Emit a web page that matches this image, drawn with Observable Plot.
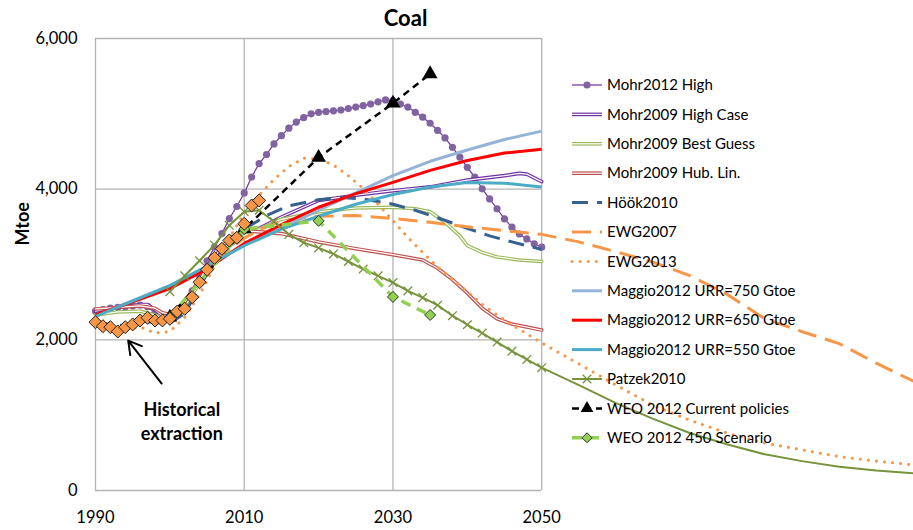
<!DOCTYPE html>
<html><head><meta charset="utf-8">
<script src="https://cdn.jsdelivr.net/npm/d3@7"></script>
<script src="https://cdn.jsdelivr.net/npm/@observablehq/plot@0.6"></script>
<style>
body{margin:0;background:#fff;font-family:Lato,"Open Sans",sans-serif}
#wrap{position:relative;width:913px;height:530px}
#wrap svg{position:absolute;left:0;top:0}
</style></head><body><div id="wrap"></div>
<script>
// ---------- data ----------
const title = "Coal";
const yLabel = "Mtoe";
const xTicks = [1990, 2010, 2030, 2050];
const yTicks = [0, 2000, 4000, 6000];
const xExtent = [1990, 2100];

const histYears = [1990,1991,1992,1993,1994,1995,1996,1997,1998,1999,2000,2001,2002,2003,2004,2005,2006,2007,2008,2009,2010,2011,2012];
const histValues = [2234,2181,2168,2111,2168,2204,2257,2293,2257,2257,2279,2376,2412,2566,2765,2930,3089,3209,3319,3355,3540,3783,3850];

const mohr2012HighYears = d3.range(1990, 2051);
const mohr2012HighValues = [2380,2400,2420,2430,2440,2450,2460,2440,2360,2300,
  2310,2380,2480,2650,2850,3050,3230,3410,3610,3770,
  3950,4160,4340,4460,4600,4710,4810,4890,4950,5000,
  5020,5030,5040,5050,5070,5090,5110,5130,5160,5185,
  5175,5130,5090,5020,4955,4875,4780,4680,4555,4425,
  4290,4160,4005,3870,3740,3605,3495,3405,3340,3275,3230];

const mohr2009HighYears = [1990,1992,1994,1996,1997,1998,1999,2000,2002,2004,2006,2008,2010,2015,2020,2025,2030,2035,2040,2045,2047,2048,2050];
const mohr2009HighValues = [2380,2420,2440,2470,2470,2400,2320,2330,2500,2800,3050,3250,3380,3630,3850,3920,3980,4030,4120,4180,4210,4200,4100];

const mohr2009BestYears = [1990,1993,1996,1998,1999,2000,2002,2004,2006,2008,2010,2015,2020,2025,2030,2033,2035,2037,2039,2040,2042,2044,2047,2050];
const mohr2009BestValues = [2330,2370,2380,2330,2290,2290,2450,2750,3050,3250,3380,3600,3700,3750,3760,3740,3700,3560,3380,3250,3160,3100,3060,3040];

const mohr2009HubYears = [1990,1993,1996,1998,1999,2000,2002,2004,2006,2008,2010,2015,2020,2025,2030,2034,2036,2038,2040,2042,2044,2046,2050];
const mohr2009HubValues = [2410,2430,2450,2420,2360,2340,2500,2800,3100,3350,3450,3410,3300,3210,3130,3060,2950,2800,2620,2420,2280,2210,2130];

const hookYears = [1990,1992,1994,1996,1998,2000,2002,2004,2006,2008,2010,2013,2016,2020,2023,2026,2030,2033,2036,2040,2043,2046,2050];
const hookValues = [2250,2200,2190,2250,2230,2220,2350,2700,3050,3320,3470,3650,3780,3860,3890,3870,3800,3720,3620,3480,3380,3300,3200];

const ewg2007Years = [2006,2008,2010,2012,2015,2020,2025,2030,2035,2040,2045,2050,2055,2060,2065,2070,2075,2080,2085,2090,2095,2100];
const ewg2007Values = [3050,3200,3350,3460,3580,3640,3650,3610,3560,3500,3450,3400,3300,3170,3030,2850,2600,2280,2110,1950,1690,1450];

const ewg2013Years = [1990,1992,1994,1996,1998,2000,2002,2004,2006,2008,2010,2012,2014,2016,2018,2020,2022,2024,2026,2028,2030,2032,2034,2036,2038,2040,2042,2044,2046,2048,2050,2055,2060,2065,2070,2075,2080,2085,2090,2095,2100];
const ewg2013Values = [2230,2170,2140,2170,2090,2110,2300,2600,2980,3350,3680,3920,4130,4300,4410,4400,4320,4180,4010,3800,3580,3360,3160,2970,2800,2640,2470,2330,2200,2080,1960,1680,1400,1130,930,760,630,540,450,390,340];

const maggioYears = [1990,2000,2005,2010,2015,2020,2025,2030,2035,2040,2045,2050];
const maggio750Values = [2320,2720,2960,3270,3480,3720,3950,4180,4370,4520,4660,4770];
const maggio650Values = [2330,2680,2940,3280,3530,3760,3940,4090,4250,4380,4480,4530];
const maggio550Values = [2310,2720,2980,3250,3470,3640,3800,3930,4030,4090,4080,4030];

const patzekYears = [2000,2002,2004,2006,2008,2010,2012,2014,2016,2018,2020,2022,2024,2026,2028,2030,2032,2034,2036,2038,2040,2042,2044,2046,2048,2050,2055,2060,2065,2070,2075,2080,2085,2090,2095,2100];
const patzekValues = [2640,2850,3050,3260,3520,3700,3720,3570,3400,3290,3220,3140,3040,2940,2850,2760,2650,2560,2460,2320,2200,2090,1970,1850,1740,1630,1400,1160,950,760,610,480,390,315,265,230];

const weoYears = [2000,2010,2020,2030,2035];
const weoCurrentValues = [2300,3470,4420,5140,5530];
const weo450Values = [2300,3470,3580,2570,2330];

const seriesNames = ["Mohr2012 High","Mohr2009 High Case","Mohr2009 Best Guess","Mohr2009 Hub. Lin.","Höök2010","EWG2007","EWG2013","Maggio2012 URR=750 Gtoe","Maggio2012 URR=650 Gtoe","Maggio2012 URR=550 Gtoe","Patzek2010","WEO 2012 Current policies","WEO 2012 450 Scenario"];

const annotationText = "Historical\nextraction";
const annotationAt = {x: 2001.6, y: 930};
const arrowSpec = {x1: 1998.9, y1: 1420, x2: 1994.4, y2: 1990};
const titleAt = 2031.7;

// ---------- helpers ----------
const pts = (ys, vs) => ys.map((x, i) => ({x, y: vs[i]}));
const markerCut = d3.max(xTicks);

// square standing on its corner (Excel-style diamond)
const rhomb = {draw(ctx, size) {
  const h = Math.sqrt(size / 2);
  ctx.moveTo(0, -h); ctx.lineTo(h, 0); ctx.lineTo(0, h); ctx.lineTo(-h, 0); ctx.closePath();
}};

const S = {
  "Mohr2012 High": {color:"#8064A2", line:"#7030A0"},
  "Mohr2009 High Case": {color:"#7030A0"},
  "Mohr2009 Best Guess": {color:"#9BBB59"},
  "Mohr2009 Hub. Lin.": {color:"#C0504D"},
  "Höök2010": {color:"#366092", dash:"16,9", w:3},
  "EWG2007": {color:"#F79646", dash:"19,9", w:3},
  "EWG2013": {color:"#F79646", dash:"0.1,8", w:3, cap:"round"},
  "Maggio2012 URR=750 Gtoe": {color:"#95B3D7", w:3},
  "Maggio2012 URR=650 Gtoe": {color:"#FF0000", w:3},
  "Maggio2012 URR=550 Gtoe": {color:"#4BACC6", w:3},
  "Patzek2010": {color:"#77933C", w:2},
  "WEO 2012 Current policies": {color:"#000000", dash:"7,5", w:2.5},
  "WEO 2012 450 Scenario": {color:"#92D050", dash:"10,7", w:3.5}
};

const dbl = (data, c) => [
  Plot.line(data, {x:"x", y:"y", stroke:c, strokeWidth:3.6}),
  Plot.line(data, {x:"x", y:"y", stroke:"white", strokeWidth:1.2})
];
const plain = (data, s) => Plot.line(data, {x:"x", y:"y", stroke:s.color, strokeWidth:s.w||2, strokeDasharray:s.dash, strokeLinecap:s.cap||"butt"});

const dMohr12 = pts(mohr2012HighYears, mohr2012HighValues);
const dPatzek = pts(patzekYears, patzekValues);
const dWeoC = pts(weoYears, weoCurrentValues);
const dWeo450 = pts(weoYears, weo450Values);
const xMin = d3.min(xTicks), xMax = d3.max(xTicks), yMin = d3.min(yTicks), yMax = d3.max(yTicks);
const grid = "#b3b3b3";
const FONT = "Lato, 'Open Sans', sans-serif";

const chart = Plot.plot({
  width: 913, height: 530,
  marginLeft: 95, marginRight: 0, marginTop: 38, marginBottom: 40,
  x: {domain: xExtent},
  y: {domain: [yMin, yMax]},
  style: {fontFamily: FONT, background: "white", color: "black", overflow: "visible"},
  marks: [
    Plot.ruleX(xTicks, {y1: yMin, y2: yMax, stroke: grid, strokeWidth: 1.3}),
    Plot.ruleY(yTicks, {x1: xMin, x2: xMax, stroke: grid, strokeWidth: 1.3}),
    Plot.axisX(xTicks, {tickSize: 0, tickPadding: 21, fontSize: 16.5, label: null, tickFormat: d => String(d)}),
    Plot.axisY(yTicks, {tickSize: 0, tickPadding: 18, fontSize: 16.5, label: null, tickFormat: d3.format(",")}),
    Plot.text([title], {x: () => titleAt, y: () => yMax, dy: -20, fontSize: 22, fontWeight: "bold"}),
    Plot.text([yLabel], {frameAnchor: "left", dx: -72, dy: -19, rotate: -90, fontSize: 18, fontWeight: "bold"}),
    // Mohr2012 High
    Plot.line(dMohr12, {x:"x", y:"y", stroke: S["Mohr2012 High"].line, strokeWidth: 1.2}),
    Plot.dot(dMohr12, {x:"x", y:"y", r: 3.6, fill: S["Mohr2012 High"].color}),
    ...dbl(pts(mohr2009HighYears, mohr2009HighValues), S["Mohr2009 High Case"].color),
    ...dbl(pts(mohr2009BestYears, mohr2009BestValues), S["Mohr2009 Best Guess"].color),
    ...dbl(pts(mohr2009HubYears, mohr2009HubValues), S["Mohr2009 Hub. Lin."].color),
    plain(pts(hookYears, hookValues), S["Höök2010"]),
    plain(pts(ewg2007Years, ewg2007Values), S["EWG2007"]),
    plain(pts(ewg2013Years, ewg2013Values), S["EWG2013"]),
    plain(pts(maggioYears, maggio750Values), S["Maggio2012 URR=750 Gtoe"]),
    plain(pts(maggioYears, maggio650Values), S["Maggio2012 URR=650 Gtoe"]),
    plain(pts(maggioYears, maggio550Values), S["Maggio2012 URR=550 Gtoe"]),
    plain(dPatzek, S["Patzek2010"]),
    Plot.dot(dPatzek.filter(d => d.x <= markerCut), {x:"x", y:"y", symbol:"times", r: 4, stroke: S["Patzek2010"].color, strokeWidth: 1.3}),
    plain(dWeoC, S["WEO 2012 Current policies"]),
    Plot.dot(dWeoC, {x:"x", y:"y", symbol:"triangle", r: 5.5, fill:"black"}),
    plain(dWeo450, S["WEO 2012 450 Scenario"]),
    Plot.dot(dWeo450, {x:"x", y:"y", symbol: rhomb, r: 4.4, fill:"#92D050", stroke:"#333", strokeWidth:1}),
    // Historical extraction
    Plot.dot(pts(histYears, histValues), {x:"x", y:"y", symbol: rhomb, r: 5.2, fill:"#F79646", stroke:"#222", strokeWidth:1}),
    Plot.arrow([arrowSpec], {x1:"x1", y1:"y1", x2:"x2", y2:"y2", stroke:"black", strokeWidth:2, headLength: 11, bend: 0}),
    Plot.text([annotationText], {x: () => annotationAt.x, y: () => annotationAt.y, fontSize: 18, fontWeight: "bold", lineHeight: 1.3})
  ]
});
document.getElementById("wrap").appendChild(chart);

// ---------- legend overlay ----------
const lg = d3.select("#wrap").append("svg").attr("width", 913).attr("height", 530).style("pointer-events","none");
const lx0 = 572, lx1 = 602, ly0 = 85, lstep = 29.4;
seriesNames.forEach((name, i) => {
  const s = S[name];
  const y = ly0 + i * lstep;
  const g = lg.append("g");
  const cx = (lx0 + lx1) / 2;
  const line = (stroke, w, dash, cap) => g.append("line").attr("x1", lx0).attr("x2", lx1).attr("y1", y).attr("y2", y)
    .attr("stroke", stroke).attr("stroke-width", w).attr("stroke-dasharray", dash || null).attr("stroke-linecap", cap || "butt");
  if (name.startsWith("Mohr2009")) {
    line(s.color, 3.6); line("white", 1.2);
  } else if (name === "Mohr2012 High") {
    line(s.line, 1.2);
    g.append("circle").attr("cx", cx).attr("cy", y).attr("r", 3.6).attr("fill", s.color);
  } else {
    line(s.color, s.w || 2, s.dash, s.cap);
    if (name === "Patzek2010") {
      g.append("path").attr("d", d3.symbol(d3.symbolTimes, 50)()).attr("transform", `translate(${cx},${y})`).attr("stroke", s.color).attr("fill", "none").attr("stroke-width", 1.3);
    } else if (name === "WEO 2012 Current policies") {
      g.append("path").attr("d", d3.symbol(d3.symbolTriangle, 70)()).attr("transform", `translate(${cx},${y})`).attr("fill", "black");
    } else if (name === "WEO 2012 450 Scenario") {
      g.append("path").attr("d", d3.symbol(rhomb, 50)()).attr("transform", `translate(${cx},${y})`).attr("fill", s.color).attr("stroke", "#333");
    }
  }
  g.append("text").attr("x", 607).attr("y", y).attr("dy", "0.35em").attr("font-size", 15)
    .attr("font-family", FONT).attr("fill", "black").text(name);
});
</script></body></html>
